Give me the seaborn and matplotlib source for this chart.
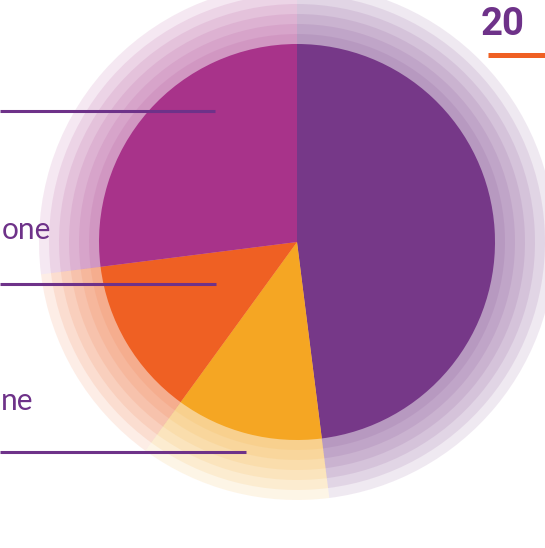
import matplotlib
matplotlib.use("Agg")
import matplotlib.pyplot as plt
import seaborn as sns

# ---- data ----
slice_names = ["Purple", "Yellow", "Orange", "Magenta"]
slice_values = [48, 12, 13, 27]
slice_colors = ["#763888", "#F5A623", "#EF6023", "#A8338A"]
left_labels = ["one", "ne"]
corner_label = "20"

sns.set_theme(style="white")
palette = sns.color_palette(slice_colors)

W, H = 545, 548
fig = plt.figure(figsize=(W / 100, H / 100), dpi=100)
ax = fig.add_axes([0, 0, 1, 1])
ax.set_facecolor("white")

cx, cy = 297, 242
# soft, layered fringe suggesting the spatter edge, then the solid pie
fringe_radii = [258, 248, 238, 228, 218, 208]
for r in fringe_radii:
    ax.pie(slice_values, colors=palette, startangle=-90, counterclock=True,
           center=(cx, cy), radius=r, wedgeprops=dict(linewidth=0, alpha=0.11))
ax.pie(slice_values, colors=palette, startangle=-90, counterclock=True,
       center=(cx, cy), radius=198, wedgeprops=dict(linewidth=0))

ax.set_aspect("auto")
ax.set_xlim(0, W)
ax.set_ylim(H, 0)
ax.axis("off")

line_col = "#6E3289"
for y, x1 in [(111, 215), (284, 216), (452, 246)]:
    ax.plot([0, x1], [y, y], color=line_col, lw=2.2, solid_capstyle="butt", zorder=5)

ax.text(2, 239, left_labels[0], color=line_col, fontsize=21.5, family=["Lato", "DejaVu Sans"],
        ha="left", va="baseline", zorder=6)
ax.text(1, 410, left_labels[1], color=line_col, fontsize=21.5, family=["Lato", "DejaVu Sans"],
        ha="left", va="baseline", zorder=6)

ax.text(481, 35, corner_label, color=line_col, fontsize=27.5, fontweight="bold",
        family=["Liberation Sans Narrow", "Roboto", "DejaVu Sans"], ha="left", va="baseline", zorder=6)
ax.plot([488, 545], [55, 55], color="#EF6023", lw=3.6, solid_capstyle="butt", zorder=5)

fig.savefig("out.png", dpi=100, facecolor="white")
